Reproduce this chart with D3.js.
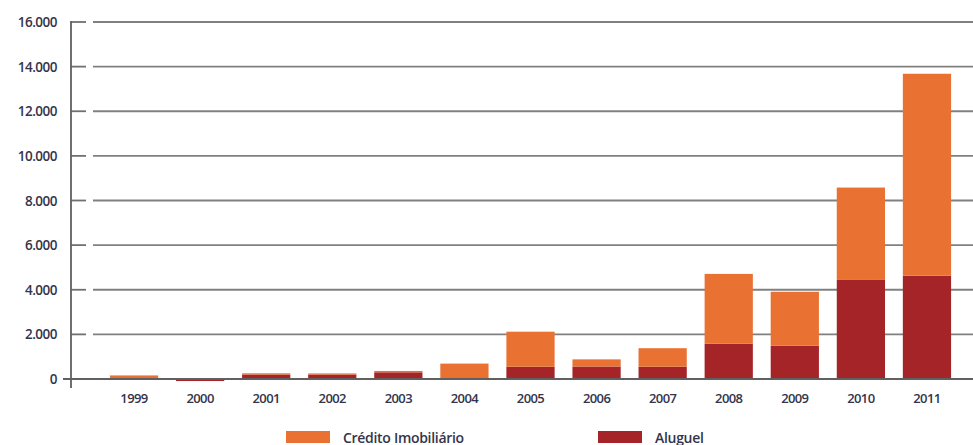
<!DOCTYPE html>
<html>
<head>
<meta charset="utf-8">
<script src="https://cdn.jsdelivr.net/npm/d3@7"></script>
<style>
  body { margin: 0; background: #fff; }
  text { font-family: "Open Sans", sans-serif; fill: #34344a; font-weight: 600; }
</style>
</head>
<body>
<div id="chart"></div>
<script>
// -- DATA -- //
const years = ["1999", "2000", "2001", "2002", "2003", "2004", "2005", "2006", "2007", "2008", "2009", "2010", "2011"];
const aluguel = [40, -90, 200, 200, 300, 0, 550, 560, 550, 1580, 1490, 4440, 4630];
const credito = [120, 0, 55, 50, 60, 690, 1570, 320, 830, 3130, 2420, 4140, 9050];
const yTicks = [0, 2000, 4000, 6000, 8000, 10000, 12000, 14000, 16000];
const seriesNames = ["Aluguel", "Crédito Imobiliário"];
const colors = { "Aluguel": "#a52428", "Crédito Imobiliário": "#e97132" };

const width = 973, height = 445;
const svg = d3.select("#chart").append("svg").attr("width", width).attr("height", height);

// build rows for the stack
const rows = years.map((y, i) => ({ year: y, "Aluguel": aluguel[i], "Crédito Imobiliário": credito[i] }));
const stacked = d3.stack().keys(seriesNames).offset(d3.stackOffsetDiverging)(rows);

const x = d3.scaleBand().domain(years).range([101, 960]).paddingInner(0.27).paddingOuter(0.135);
const y = d3.scaleLinear().domain([0, 16000]).range([379, 22]);

const fmt = d => d3.format(",")(d).replace(/,/g, ".");

// gridlines (short tick, gap, then line to the right edge)
const grid = svg.append("g");
yTicks.filter(d => d > 0).forEach(d => {
  grid.append("line").attr("x1", 71).attr("x2", 86).attr("y1", y(d)).attr("y2", y(d))
    .attr("stroke", "#707070").attr("stroke-width", 1.8);
  grid.append("line").attr("x1", 93).attr("x2", width).attr("y1", y(d)).attr("y2", y(d))
    .attr("stroke", "#808080").attr("stroke-width", 1.8);
});

// y tick labels
svg.append("g").selectAll("text").data(yTicks).join("text")
  .attr("x", 57).attr("y", d => y(d) + 5)
  .attr("text-anchor", "end").style("font-size", "13.5px").style("letter-spacing", "-0.5px")
  .text(fmt);

// bars
svg.append("g").selectAll("g").data(stacked).join("g")
  .attr("fill", s => colors[s.key])
  .selectAll("rect").data(s => s).join("rect")
  .attr("x", d => x(d.data.year))
  .attr("width", x.bandwidth())
  .attr("y", d => y(Math.max(d[0], d[1])))
  .attr("height", d => Math.abs(y(d[0]) - y(d[1])));

// baseline and y axis
svg.append("line").attr("x1", 63).attr("x2", width).attr("y1", y(0)).attr("y2", y(0))
  .attr("stroke", "#606060").attr("stroke-width", 1.8);
svg.append("line").attr("x1", 71).attr("x2", 71).attr("y1", 21).attr("y2", 388)
  .attr("stroke", "#606060").attr("stroke-width", 1.8);

// x labels
svg.append("g").selectAll("text").data(years).join("text")
  .attr("x", d => x(d) + x.bandwidth() / 2).attr("y", 403)
  .attr("text-anchor", "middle").style("font-size", "13px").style("letter-spacing", "-0.6px")
  .text(d => d);

// legend
const legend = [
  { name: "Crédito Imobiliário", x: 286 },
  { name: "Aluguel", x: 598 }
];
const lg = svg.append("g").selectAll("g").data(legend).join("g")
  .attr("transform", d => `translate(${d.x},431)`);
lg.append("rect").attr("width", 44).attr("height", 12).attr("fill", d => colors[d.name]);
lg.append("text").attr("x", 57).attr("y", 11.5).style("font-size", "14px").style("letter-spacing", "-0.3px")
  .text(d => d.name);
</script>
</body>
</html>
